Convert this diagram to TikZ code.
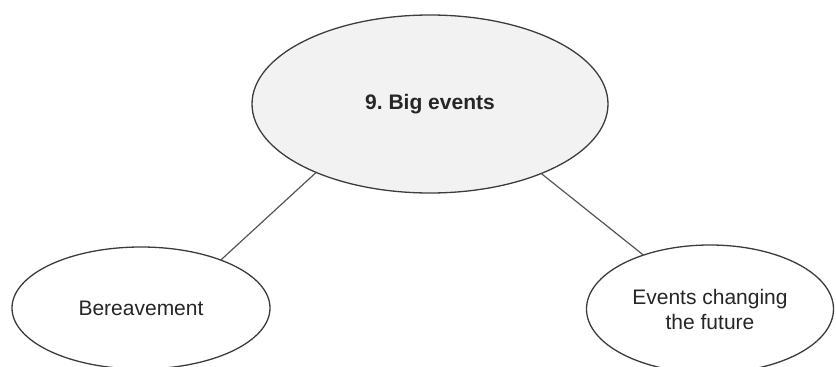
\documentclass[tikz,border=0pt]{standalone}
\usepackage{fontspec}
\setmainfont{Liberation Sans}
\usetikzlibrary{shapes.geometric}
\definecolor{topicfill}{HTML}{F2F2F2}
\definecolor{rim}{HTML}{3C3C3C}
\definecolor{link}{HTML}{555555}

\begin{document}
\begin{tikzpicture}[x=1pt,y=-1pt]
\tikzset{bubble/.style={ellipse,draw=rim,line width=1.3pt,fill=white,
  inner sep=0pt,outer sep=0pt,align=center,text=black!85,
  font=\fontsize{21}{25}\selectfont}}
\useasboundingbox (0,0) rectangle (836,367);
\node[bubble,fill=topicfill,minimum width=356pt,minimum height=178pt,
  font=\bfseries\fontsize{21}{25}\selectfont] (big) at (430,104) {9.\ Big events};
\node[bubble,minimum width=258pt,minimum height=122pt] (loss) at (141,308) {Bereavement};
\node[bubble,minimum width=247pt,minimum height=128pt] (future) at (710,309) {Events changing\\the future};
\draw[link,line width=1.2pt] (big.211) -- (loss.31);
\draw[link,line width=1.2pt] (big.328) -- (future.141);
\end{tikzpicture}
\end{document}
